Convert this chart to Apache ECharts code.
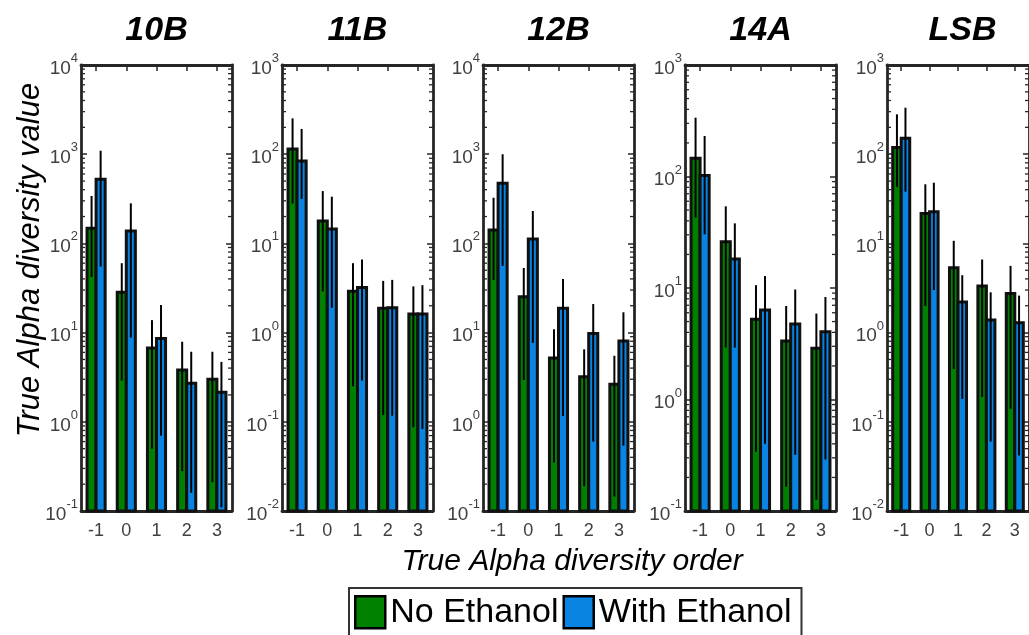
<!DOCTYPE html>
<html><head><meta charset="utf-8">
<script src="https://cdn.jsdelivr.net/npm/echarts/dist/echarts.min.js"></script>
<style>html,body{margin:0;padding:0;background:#fff}#c{width:1029px;height:635px}</style>
</head><body><div id="c"></div><script>
// ---------- data ----------
const categories = ['-1', '0', '1', '2', '3'];
const panelTitles = ['10B', '11B', '12B', '14A', 'LSB'];
const yExpMin = [-1, -2, -1, -1, -2];
const yExpMax = [4, 3, 4, 3, 3];
const seriesNames = ['No Ethanol', 'With Ethanol'];

// No Ethanol: mean, lower end of error bar, upper end of error bar (per panel)
const noEthMean = [
  [148, 28.3, 6.7, 3.8, 3.0],
  [114, 17.8, 2.9, 1.87, 1.62],
  [141, 25.3, 5.2, 3.2, 2.63],
  [146, 26, 5.24, 3.35, 2.88],
  [119, 21.7, 5.35, 3.33, 2.75]
];
const noEthLow = [
  [42, 2.9, 0.50, 0.28, 0.21],
  [28, 2.9, 0.25, 0.119, 0.087],
  [38.9, 2.94, 0.35, 0.19, 0.145],
  [42.8, 2.92, 0.34, 0.165, 0.126],
  [43, 1.99, 0.39, 0.19, 0.14]
];
const noEthHigh = [
  [340, 60, 13.8, 7.9, 6.1],
  [252, 38.6, 6.0, 3.8, 3.3],
  [325, 53, 10.9, 6.5, 5.5],
  [337, 54, 10.6, 6.9, 5.9],
  [280, 46, 10.7, 6.6, 5.6]
];
// With Ethanol
const withEthMean = [
  [524, 138, 8.6, 2.7, 2.14],
  [84, 14.5, 3.2, 1.9, 1.62],
  [472, 112, 18.7, 9.8, 8.05],
  [102, 18.2, 6.35, 4.75, 4.06],
  [151, 22.7, 2.2, 1.38, 1.29]
];
const withEthLow = [
  [55, 8.8, 0.7, 0.16, 0.11],
  [31.5, 1.9, 0.29, 0.117, 0.083],
  [56, 7.7, 1.16, 0.6, 0.54],
  [30.3, 2.92, 0.40, 0.32, 0.29],
  [38, 3.0, 0.18, 0.06, 0.042]
];
const withEthHigh = [
  [1094, 281, 20.4, 6.1, 4.7],
  [192, 33.4, 6.6, 3.9, 3.4],
  [998, 231, 39.9, 20.9, 16.9],
  [231, 38, 12.8, 9.7, 8.3],
  [332, 47.9, 4.4, 2.83, 2.6]
];

// ---------- layout / style ----------
const FONT = 'Liberation Sans, Arial, Helvetica, sans-serif';
const GRID_LEFT = [81, 282, 483, 685, 887];
const GRID_W = 151, GRID_TOP = 65, GRID_H = 446;
const COLORS = ['#008000', '#0a84e3'];
const AXIS_COLOR = '#262626';
const LABEL_COLOR = '#404040';
const BAR_FRAC = 0.3;

const chart = echarts.init(document.getElementById('c'), null, {renderer: 'canvas'});

function labelFmt(v) {
  const e = Math.round(Math.log10(v));
  return '{b|10}{s|' + e + '}';
}
const richLabel = {
  b: {fontSize: 19, fontFamily: FONT, color: LABEL_COLOR, verticalAlign: 'bottom', lineHeight: 26},
  s: {fontSize: 13, fontFamily: FONT, color: LABEL_COLOR, verticalAlign: 'top', lineHeight: 26}
};

function barRender(sIdx) {
  return function (params, api) {
    const ci = api.value(0), v = api.value(1), lo = api.value(2), hi = api.value(3);
    const top = api.coord([ci, v]);
    const band = api.size([1, 0])[0];
    const w = band * BAR_FRAC;
    const cs = params.coordSys;
    const bottom = cs.y + cs.height;
    const x0 = sIdx === 0 ? top[0] - w : top[0];
    const cx = x0 + w / 2;
    const pLo = api.coord([ci, lo]);
    const pHi = api.coord([ci, hi]);
    return {
      type: 'group',
      children: [
        {type: 'rect', shape: {x: x0, y: top[1], width: w, height: bottom - top[1]},
          style: {fill: COLORS[sIdx], stroke: '#111', lineWidth: 3}},
        {type: 'line', shape: {x1: cx, y1: pLo[1], x2: cx, y2: pHi[1]},
          style: {stroke: '#000', lineWidth: 2}}
      ]
    };
  };
}

function minorRender(params, api) {
  const v = api.value(1);
  const p = api.coord([0, v]);
  const cs = params.coordSys;
  return {
    type: 'group',
    children: [
      {type: 'line', shape: {x1: cs.x, y1: p[1], x2: cs.x + 4, y2: p[1]}, style: {stroke: AXIS_COLOR, lineWidth: 1.3}},
      {type: 'line', shape: {x1: cs.x + cs.width - 4, y1: p[1], x2: cs.x + cs.width, y2: p[1]}, style: {stroke: AXIS_COLOR, lineWidth: 1.3}}
    ]
  };
}

const grids = [], xAxes = [], yAxes = [], series = [], graphics = [];
const means = [noEthMean, withEthMean], lows = [noEthLow, withEthLow], highs = [noEthHigh, withEthHigh];

panelTitles.forEach(function (t, p) {
  grids.push({left: GRID_LEFT[p], top: GRID_TOP, width: GRID_W, height: GRID_H, containLabel: false});
  const lineStyle = {color: AXIS_COLOR, width: 2.8};
  xAxes.push({
    type: 'category', gridIndex: p, data: categories, position: 'bottom',
    axisLine: {show: true, lineStyle: lineStyle},
    axisTick: {show: true, inside: true, alignWithLabel: true, length: 6, lineStyle: {color: AXIS_COLOR, width: 1.5}},
    axisLabel: {show: true, fontSize: 18, fontFamily: FONT, color: LABEL_COLOR, margin: 11},
    splitLine: {show: false}
  });
  xAxes.push({
    type: 'category', gridIndex: p, data: categories, position: 'top',
    axisLine: {show: true, lineStyle: lineStyle},
    axisTick: {show: true, inside: true, alignWithLabel: true, length: 6, lineStyle: {color: AXIS_COLOR, width: 1.5}},
    axisLabel: {show: false}, splitLine: {show: false}
  });
  const ymin = Math.pow(10, yExpMin[p]), ymax = Math.pow(10, yExpMax[p]);
  yAxes.push({
    type: 'log', logBase: 10, gridIndex: p, min: ymin, max: ymax, position: 'left',
    axisLine: {show: true, lineStyle: lineStyle},
    axisTick: {show: true, inside: true, length: 6, lineStyle: {color: AXIS_COLOR, width: 1.5}},
    axisLabel: {show: true, formatter: labelFmt, rich: richLabel, margin: 3, showMinLabel: true, showMaxLabel: true},
    splitLine: {show: false}, minorTick: {show: false}
  });
  yAxes.push({
    type: 'log', logBase: 10, gridIndex: p, min: ymin, max: ymax, position: 'right',
    axisLine: {show: true, lineStyle: lineStyle},
    axisTick: {show: true, inside: true, length: 6, lineStyle: {color: AXIS_COLOR, width: 1.5}},
    axisLabel: {show: false}, splitLine: {show: false}
  });

  for (let s = 0; s < 2; s++) {
    series.push({
      type: 'custom', name: seriesNames[s], xAxisIndex: 2 * p, yAxisIndex: 2 * p,
      itemStyle: {color: COLORS[s], borderColor: '#111', borderWidth: 3},
      renderItem: barRender(s),
      encode: {x: 0, y: [1, 2, 3]},
      data: categories.map(function (c, i) {
        return [i, means[s][p][i], lows[s][p][i], highs[s][p][i]];
      }),
      z: 3, silent: true
    });
  }
  const minor = [];
  for (let e = yExpMin[p]; e < yExpMax[p]; e++) {
    for (let m = 2; m <= 9; m++) minor.push([0, m * Math.pow(10, e)]);
  }
  series.push({
    type: 'custom', name: 'minor' + p, xAxisIndex: 2 * p, yAxisIndex: 2 * p,
    renderItem: minorRender, data: minor, silent: true, z: 1, encode: {x: 0, y: 1}
  });

  graphics.push({
    type: 'text', x: GRID_LEFT[p] + GRID_W / 2, y: 31,
    style: {text: t, align: 'center', verticalAlign: 'middle', fontSize: 34,
      fontStyle: 'italic', fontWeight: 'bold', fontFamily: FONT, fill: '#000'}
  });
});

graphics.push({
  type: 'text', x: 30, y: 260, rotation: Math.PI / 2,
  style: {text: 'True Alpha diversity value', align: 'center', verticalAlign: 'middle',
    fontSize: 31, fontStyle: 'italic', fontFamily: FONT, fill: '#000'}
});
graphics.push({
  type: 'text', x: 572, y: 562,
  style: {text: 'True Alpha diversity order', align: 'center', verticalAlign: 'middle',
    fontSize: 30, fontStyle: 'italic', fontFamily: FONT, fill: '#000'}
});

chart.setOption({
  animation: false,
  backgroundColor: '#fff',
  grid: grids, xAxis: xAxes, yAxis: yAxes, series: series,
  graphic: graphics,
  legend: {
    left: 349, top: 588, orient: 'horizontal', selectedMode: false,
    data: [{name: 'No Ethanol', icon: 'rect'}, {name: 'With Ethanol', icon: 'rect'}],
    itemWidth: 30, itemHeight: 32, itemGap: 4,
    padding: [7, 10, 10, 5],
    borderColor: '#333', borderWidth: 2, backgroundColor: '#fff',
    textStyle: {fontSize: 34, color: '#000', fontFamily: FONT},
    itemStyle: {borderColor: '#000', borderWidth: 2.5}
  }
});
</script></body></html>
